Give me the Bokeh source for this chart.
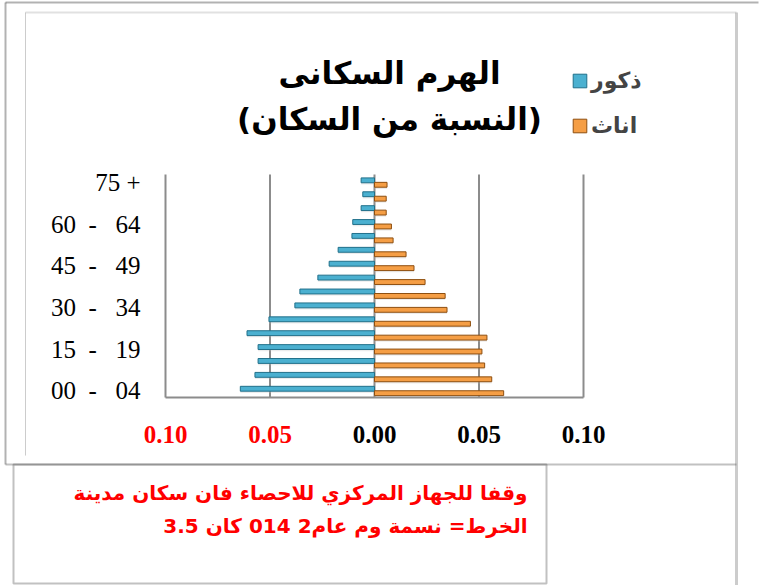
from bokeh.plotting import figure
from bokeh.models import (Label, Legend, LegendItem, BoxAnnotation, ColumnDataSource)
from bokeh.embed import file_html
from bokeh.resources import INLINE

# ---------------- data ----------------
NB = "\u00a0"
age_groups = [f"{a:02d}{NB}{NB}-{NB}{NB}{NB}{a + 4:02d}" for a in range(0, 75, 5)] + [f"75{NB}+"]
male = [0.0642, 0.0572, 0.0557, 0.0557, 0.0610, 0.0505, 0.0381, 0.0357,
        0.0271, 0.0217, 0.0174, 0.0108, 0.0104, 0.0064, 0.0056, 0.0064]
female = [0.0618, 0.0561, 0.0527, 0.0514, 0.0538, 0.0459, 0.0347, 0.0338,
          0.0242, 0.0189, 0.0151, 0.0089, 0.0081, 0.0056, 0.0056, 0.0060]
x_ticks = [-0.10, -0.05, 0.0, 0.05, 0.10]
x_tick_labels = ["0.10", "0.05", "0.00", "0.05", "0.10"]
x_tick_colors = ["#FF0000", "#FF0000", "black", "black", "black"]
y_label_every = 3

title_line1 = "الهرم السكانى"
title_line2 = "(النسبة من السكان)"
male_label = "ذكور"
female_label = "اناث"
note_line1 = "وقفا للجهاز المركزي للاحصاء فان سكان مدينة"
note_line2 = "الخرط= نسمة وم عام2 014 كان 3.5"

# ---------------- layout (pixels) ----------------
W, H = 759, 585
PX_L, PX_R, PX_T, PX_B = 165, 583, 174, 397     # plotting area in page pixels
X_MIN, X_MAX = -0.1, 0.1
Y_MIN, Y_MAX = -0.47, 15.58
kx = (X_MAX - X_MIN) / (PX_R - PX_L)
ky = (Y_MAX - Y_MIN) / (PX_B - PX_T)
x_range = (X_MIN - PX_L * kx, X_MAX + (W - PX_R) * kx)
y_range = (Y_MIN - (H - PX_B) * ky, Y_MAX + PX_T * ky)

ARABIC = "DejaVu Sans"
SERIF = "Liberation Serif"
GRID = "#8C8C8C"

p = figure(width=W, height=H, output_backend="svg", toolbar_location=None,
           x_range=x_range, y_range=y_range,
           x_axis_location=None, y_axis_location=None, min_border=0)
p.outline_line_color = None
p.background_fill_color = "white"
p.border_fill_color = "white"
p.grid.visible = False

idx = list(range(len(age_groups)))

# grid lines + axis lines
p.segment(x0=x_ticks, x1=x_ticks, y0=[Y_MIN] * len(x_ticks), y1=[Y_MAX] * len(x_ticks),
          line_color=GRID, line_width=2)
p.segment(x0=[X_MIN], x1=[X_MAX], y0=[Y_MIN], y1=[Y_MIN], line_color=GRID, line_width=2)

src = ColumnDataSource(dict(
    y_m=[i + 0.16 for i in idx],
    y_f=[i - 0.16 for i in idx],
    y_ms=[i + 0.02 for i in idx],
    y_fs=[i - 0.30 for i in idx],
    male=[-v for v in male],
    female=female,
))

# soft shadows
p.hbar(y="y_ms", left=0, right="male", height=0.32, source=src,
       fill_color="#BFBFBF", fill_alpha=0.3, line_color=None)
p.hbar(y="y_fs", left=0, right="female", height=0.32, source=src,
       fill_color="#BFBFBF", fill_alpha=0.3, line_color=None)
r_m = p.hbar(y="y_m", left=0, right="male", height=0.35, source=src,
             fill_color="#4BB0D0", line_color="#21708A", line_width=1)
r_f = p.hbar(y="y_f", left=0, right="female", height=0.35, source=src,
             fill_color="#F59E45", line_color="#8E4F10", line_width=1)

# x tick labels
p.text(x=x_ticks, y=[Y_MIN] * len(x_ticks), text=x_tick_labels, text_color=x_tick_colors,
       y_offset=37, text_font="Liberation Serif", text_font_style="bold",
       text_font_size="25px", text_align="center", text_baseline="middle")

# y tick labels
y_ticks = idx[::y_label_every]
p.text(x=[X_MIN] * len(y_ticks), y=y_ticks, text=[age_groups[i] for i in y_ticks],
       x_offset=-25, text_font="Liberation Serif", text_font_size="25px",
       text_color="black", text_align="right", text_baseline="middle")

# title
for txt, wy in [(title_line1, 72), (title_line2, 118)]:
    p.add_layout(Label(x=389, y=H - wy, x_units="screen", y_units="screen", text=txt,
                       text_font=ARABIC, text_font_style="bold", text_font_size="31px",
                       text_align="center", text_baseline="middle", text_color="black"))

# legend
legend = Legend(items=[LegendItem(label=male_label, renderers=[r_m]),
                       LegendItem(label=female_label, renderers=[r_f])],
                location=(571, H - 138), orientation="vertical",
                label_text_font=ARABIC, label_text_font_style="bold",
                label_text_font_size="22px", glyph_width=17, glyph_height=17,
                label_standoff=3, spacing=20, padding=0, margin=0,
                border_line_color=None, background_fill_alpha=0)
p.add_layout(legend)

# note text
for txt, wy in [(note_line1, 492), (note_line2, 525)]:
    p.add_layout(Label(x=527, y=H - wy, x_units="screen", y_units="screen", text=txt,
                       text_font=ARABIC, text_font_style="bold", text_font_size="20px",
                       text_align="right", text_baseline="middle", text_color="#FF0000"))

# frame decorations, page pixel coordinates
def box(l, r, t, b, color, w):
    p.add_layout(BoxAnnotation(left=l, right=r, top=H - t, bottom=H - b,
                               left_units="screen", right_units="screen",
                               top_units="screen", bottom_units="screen",
                               fill_alpha=0, line_color=color, line_width=w))

box(5, 758, 2, 2, "black", 2)          # top black line
box(5, 5, 2, 464, "black", 2)          # left black line
box(5, 736, 464, 464, "#333333", 2)    # bottom black line
box(736, 736, 12, 585, "#555555", 3)   # right dark line
box(25, 736, 12, 12, "#9A9A9A", 2)     # inner gray top
box(25, 25, 12, 455, "#9A9A9A", 1)     # inner gray left
box(13, 546, 464, 583, "#333333", 2)   # lower text box

open("out.html", "w").write(file_html(p, INLINE))
